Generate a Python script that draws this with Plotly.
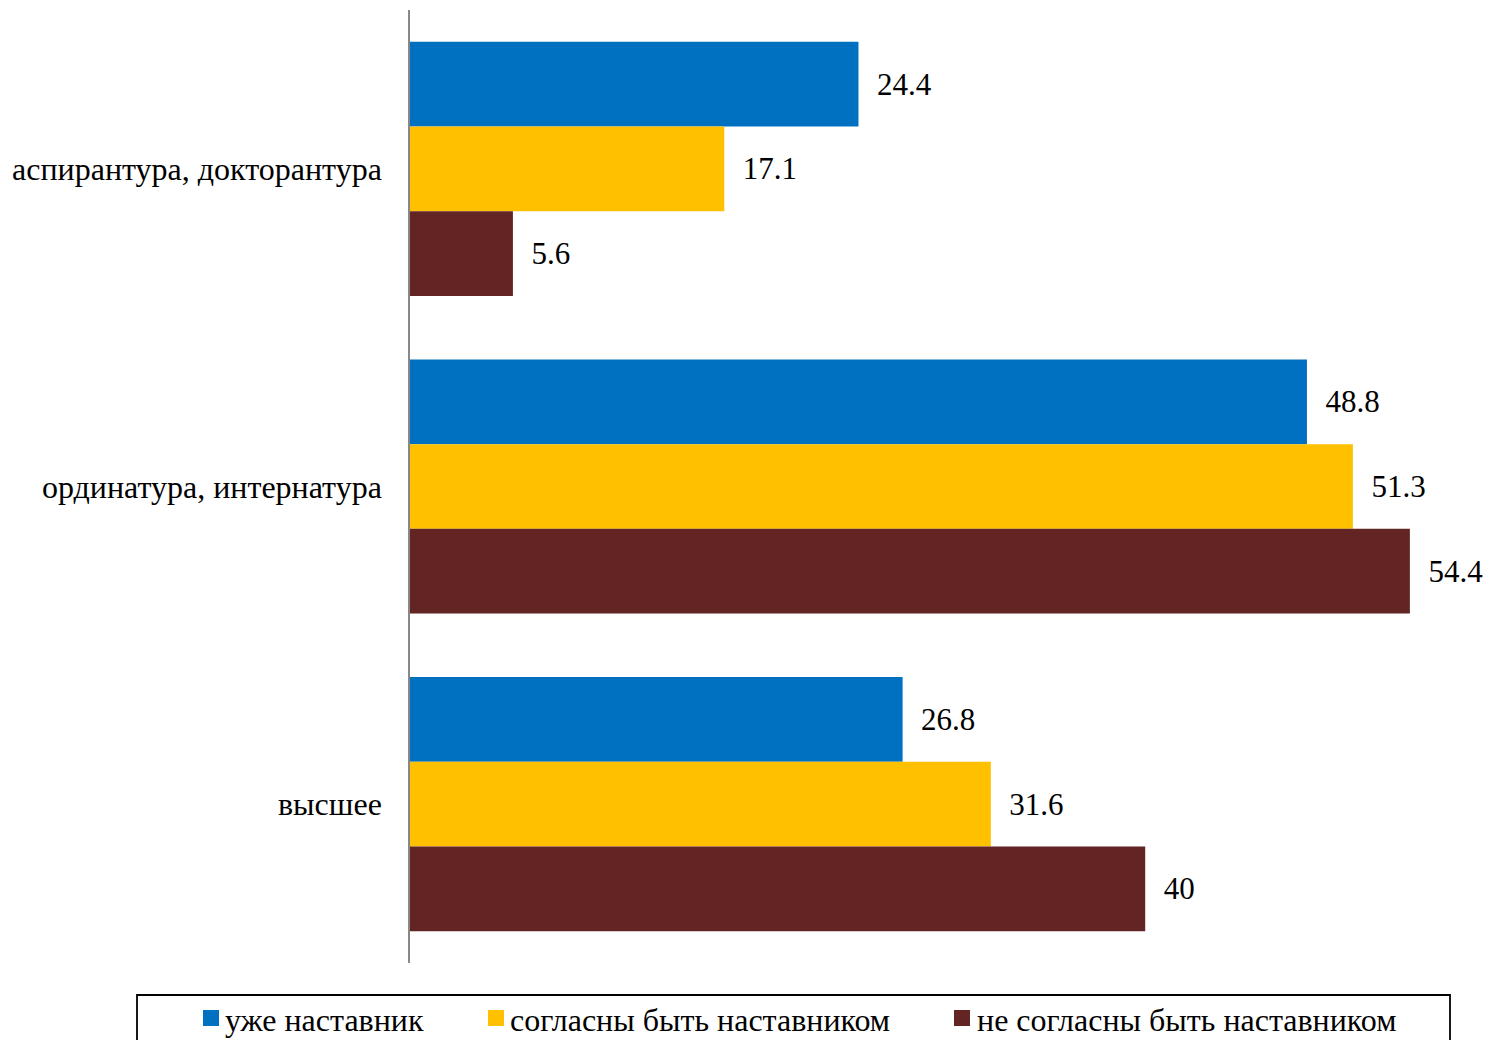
import plotly.graph_objects as go

categories = ["аспирантура, докторантура", "ординатура, интернатура", "высшее"]
series_names = ["уже наставник", "согласны быть наставником", "не согласны быть наставником"]
already = [24.4, 48.8, 26.8]
agree = [17.1, 51.3, 31.6]
disagree = [5.6, 54.4, 40]

colors = ["#0070C0", "#FFC000", "#632523"]
values = [already, agree, disagree]

FONT = "Liberation Serif, Times New Roman, serif"

W, H = 1488, 1040
ML, MR, MT, MB = 410, 0, 10, 77
PW, PH = W - ML - MR, H - MT - MB


def px_x(px):
    return (px - ML) / PW


def px_y(py):
    return (H - MB - py) / PH


fig = go.Figure()
for name, vals, col in zip(series_names, values, colors):
    fig.add_trace(go.Bar(
        y=categories, x=vals, name=name, orientation="h",
        marker=dict(color=col, line=dict(width=0)),
        text=["\u00a0\u00a0" + (f"{v:g}") for v in vals],
        textposition="outside",
        textfont=dict(family=FONT, size=31, color="black"),
        cliponaxis=False,
        showlegend=False,
    ))

# Legend drawn as a framed box below the plot (Excel-style)
shapes = [dict(type="rect", xref="paper", yref="paper",
               x0=px_x(137), x1=px_x(1450), y0=px_y(1060), y1=px_y(995),
               line=dict(color="black", width=1.8), fillcolor="rgba(0,0,0,0)")]
annotations = []
marker_left = [203, 488, 954]
text_left = [223, 508, 975]
for name, col, mx, tx in zip(series_names, colors, marker_left, text_left):
    shapes.append(dict(type="rect", xref="paper", yref="paper",
                       x0=px_x(mx), x1=px_x(mx + 16), y0=px_y(1026), y1=px_y(1010),
                       line=dict(width=0), fillcolor=col))
    annotations.append(dict(text=name, xref="paper", yref="paper",
                            x=px_x(tx), y=px_y(1020), xanchor="left", yanchor="middle",
                            showarrow=False,
                            font=dict(family=FONT, size=32, color="black")))

fig.update_layout(
    width=W, height=H,
    margin=dict(l=ML, r=MR, t=MT, b=MB),
    paper_bgcolor="white", plot_bgcolor="white",
    barmode="group", bargap=0.2, bargroupgap=0,
    font=dict(family=FONT, size=32, color="black"),
    xaxis=dict(range=[0, 58.65], visible=False, showgrid=False, zeroline=False),
    yaxis=dict(autorange="reversed", showline=True, linecolor="#888888", linewidth=1.5,
               ticks="", showgrid=False, tickfont=dict(family=FONT, size=32, color="black"),
               ticklabelstandoff=20),
    shapes=shapes,
    annotations=annotations,
    showlegend=False,
)

fig.write_html("out.html")
